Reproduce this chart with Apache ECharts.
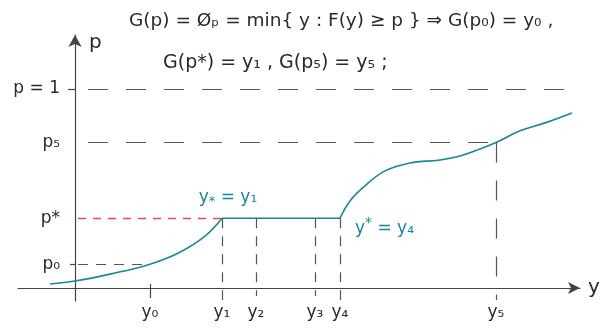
<!DOCTYPE html>
<html>
<head>
<meta charset="utf-8">
<script src="https://cdn.jsdelivr.net/npm/echarts@6/dist/echarts.min.js"></script>
<style>
  html, body { margin: 0; padding: 0; background: #ffffff; }
  #chart { width: 602px; height: 329px; }
</style>
</head>
<body>
<div id="chart"></div>
<script>
// quantile points on the y axis (horizontal) and probability levels (vertical)
var yNames = ['y₀', 'y₁', 'y₂', 'y₃', 'y₄', 'y₅'];
var yVals = [0.75, 1.47, 1.81, 2.40, 2.65, 4.21];
var pNames = ['p₀', 'p*', 'p₅', 'p = 1'];
var pVals = [0.12, 0.35, 0.73, 1];

// F(y) drawn in three pieces: rising part, flat part (y1..y4), rising part
var curveLeft = [[-0.25, 0.02], [0, 0.035], [0.35, 0.07], [0.75, 0.12], [1.05, 0.18], [1.3, 0.26], [1.47, 0.35]];
var curveFlat = [[1.47, 0.35], [2.65, 0.35]];
var curveRight = [[2.65, 0.35], [2.75, 0.437], [2.9, 0.513], [3.1, 0.588], [3.35, 0.628], [3.65, 0.643],
	[3.85, 0.663], [4.05, 0.698], [4.21, 0.73], [4.45, 0.789], [4.7, 0.829], [4.97, 0.879]];

var teal = '#17879a';
var ink = '#2a2a2a';
var font = 'DejaVu Sans';

function lab(v, vals, names) {
	for (var i = 0; i < vals.length; i++) {
		if (Math.abs(vals[i] - v) < 1e-6) return names[i];
	}
	return '';
}

var grayDash = { color: '#555', type: [20, 18], width: 1.2 };
var shortDash = { color: '#555', type: [10, 8], width: 1.2 };
var solidTick = { color: '#444', type: 'solid', width: 1.2 };

var guideLines = [
	[{ coord: [0.13, pVals[3]] }, { coord: [5.05, pVals[3]] }],
	[{ coord: [0.13, pVals[2]] }, { coord: [yVals[5], pVals[2]] }],
	[{ coord: [yVals[5], pVals[2]] }, { coord: [yVals[5], -0.06] }],
	[{ coord: [0.03, pVals[0]] }, { coord: [yVals[0], pVals[0]], lineStyle: shortDash }],
	[{ coord: [yVals[0], 0.02] }, { coord: [yVals[0], -0.05], lineStyle: solidTick }],
	[{ coord: [-0.07, pVals[3]] }, { coord: [0, pVals[3]], lineStyle: solidTick }],
	[{ coord: [-0.05, pVals[0]] }, { coord: [0, pVals[0]], lineStyle: solidTick }],
	[{ coord: [yVals[1], pVals[1]] }, { coord: [yVals[1], -0.06], lineStyle: shortDash }],
	[{ coord: [yVals[2], pVals[1]] }, { coord: [yVals[2], -0.04], lineStyle: shortDash }],
	[{ coord: [yVals[3], pVals[1]] }, { coord: [yVals[3], -0.04], lineStyle: shortDash }],
	[{ coord: [yVals[4], pVals[1]] }, { coord: [yVals[4], -0.06], lineStyle: shortDash }],
	[{ coord: [0.03, pVals[1]] }, { coord: [yVals[1], pVals[1]], lineStyle: { color: '#e0505a', type: [8, 7], width: 1.3 } }]
];

var chart = echarts.init(document.getElementById('chart'));
var option = {
	backgroundColor: '#ffffff',
	animation: false,
	title: [{
		text: 'G(p) = Øₚ = min{ y : F(y) ≥ p } ⇒ G(p₀) = y₀ ,',
		left: 124, top: 7,
		textStyle: { fontFamily: font, fontSize: 18.5, fontWeight: 'normal', color: ink }
	}, {
		text: 'G(p*) = y₁ , G(p₅) = y₅ ;',
		left: 158, top: 49,
		textStyle: { fontFamily: font, fontSize: 19, fontWeight: 'normal', color: ink }
	}],
	grid: { left: 18, top: 35, width: 562, height: 266, outerBoundsMode: 'none', containLabel: false },
	xAxis: {
		type: 'value', min: -0.57, max: 5.05,
		name: 'y', nameGap: 8,
		nameTextStyle: { fontFamily: font, fontSize: 20, color: ink, verticalAlign: 'middle', padding: [0, 0, 0, 0] },
		splitLine: { show: false },
		axisLine: { onZero: true, symbol: ['none', 'arrow'], symbolSize: [9, 12], lineStyle: { color: '#444', width: 1.2 } },
		axisTick: { show: false },
		axisLabel: {
			customValues: yVals, margin: 3,
			formatter: function(v) { return lab(v, yVals, yNames); },
			fontFamily: font, fontSize: 17, color: ink
		}
	},
	yAxis: {
		type: 'value', min: -0.065, max: 1.27,
		name: 'p', nameGap: -18,
		nameTextStyle: { fontFamily: font, fontSize: 20, color: ink, align: 'left', padding: [0, 0, 0, 14] },
		splitLine: { show: false },
		axisLine: { onZero: true, symbol: ['none', 'arrow'], symbolSize: [10, 12], lineStyle: { color: '#444', width: 1.2 } },
		axisTick: { show: false },
		axisLabel: {
			customValues: pVals, margin: -42,
			formatter: function(v) { return lab(v, pVals, pNames); },
			fontFamily: font, fontSize: 17, color: ink
		}
	},
	series: [{
		type: 'line', data: curveLeft, smooth: 0.4, symbol: 'none',
		lineStyle: { color: teal, width: 1.6 },
		markLine: { silent: true, symbol: 'none', label: { show: false }, lineStyle: grayDash, data: guideLines }
	}, {
		type: 'line', data: [
			{ value: curveFlat[0], label: { show: true, position: 'top', distance: 10, offset: [6, 0], formatter: 'y{s|*} = y₁' } },
			{ value: curveFlat[1], label: { show: true, position: 'right', offset: [10, 10], formatter: 'y{u|*} = y₄' } }
		],
		symbol: 'circle', symbolSize: 0, showSymbol: true,
		lineStyle: { color: teal, width: 1.6 },
		label: {
			fontFamily: font, fontSize: 17, color: teal,
			rich: {
				s: { fontFamily: font, fontSize: 13, color: teal, padding: [8, 0, 0, 0] },
				u: { fontFamily: font, fontSize: 14, color: teal, padding: [0, 0, 10, 0] }
			}
		}
	}, {
		type: 'line', data: curveRight, smooth: 0.4, symbol: 'none',
		lineStyle: { color: teal, width: 1.6 }
	}]
};
chart.setOption(option);
</script>
</body>
</html>
